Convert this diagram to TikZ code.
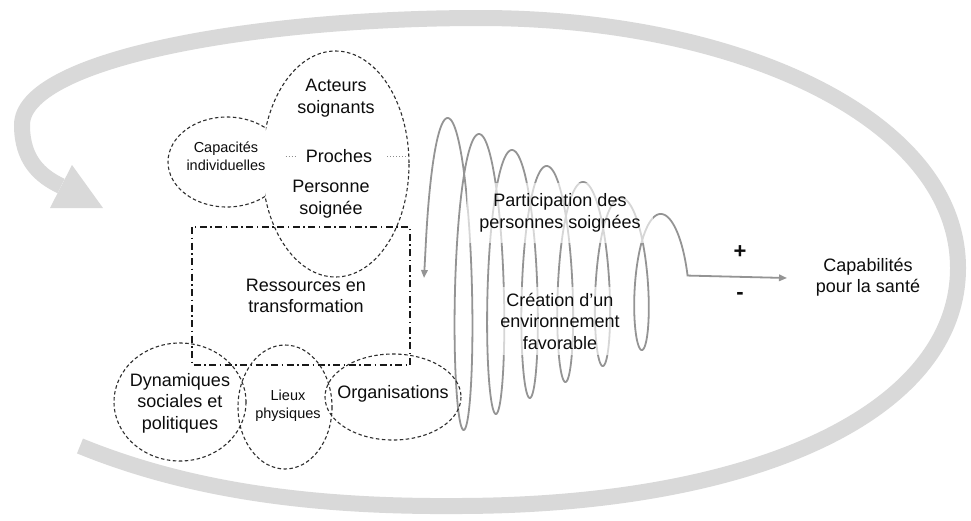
\documentclass[tikz,border=0pt]{standalone}
\usepackage{fontspec}
\setmainfont{Liberation Sans}
\usetikzlibrary{arrows.meta,intersections,calc}
\begin{document}
\begin{tikzpicture}[x=1pt,y=-1pt,
  lbl/.style={font=\fontsize{18}{21.5}\selectfont, align=center, text=black!95, inner sep=2pt},
  small/.style={font=\fontsize{14.5}{18}\selectfont, align=center, text=black!95, inner sep=1pt},
  dashell/.style={draw=black!82, line width=1.1pt, dash pattern=on 3.5pt off 2.5pt},
  dashdot/.style={draw=black!90, line width=1.6pt, dash pattern=on 7pt off 3.5pt on 1.5pt off 3.5pt},
  bigarc/.style={draw=black!15, line width=16pt},
  coil/.style={draw=black!42, line width=1.8pt, >={Triangle[width=6.5pt,length=8pt]}},
  fade/.style={fill=white, fill opacity=0.62, text opacity=1},
  sign/.style={font=\fontsize{22}{22}\selectfont\bfseries, text=black!95}
]
\fill[white] (0,0) rectangle (971,520);
\useasboundingbox (0,0) rectangle (971,520);

% big grey loop
\draw[bigarc] (80,446) .. controls (200,495) and (330,507) .. (460,506)
  .. controls (760,505) and (958,410) .. (958,268)
  .. controls (958,120) and (740,18) .. (480,18)
  .. controls (250,18) and (22,60) .. (22,125)
  .. controls (22,160) and (40,176) .. (61,186);
\fill[black!15] (50,208) -- (72,165) -- (103,208) -- cycle;

% coil
\coordinate (tip) at (787,278);
\draw[coil,<->] (424,278) -- plot[domain=-0.22:6.25, samples=700, variable=\t]
  ({448+30.5*\t+0.85*\t*\t+16*sin(360*\t)}, {278-(160-16*\t)*cos(360*\t)}) -- (tip);

% dash-dot rectangle
\draw[dashdot] (192,227) rectangle (410,365);

% union of tall ellipse and Capacites ellipse
\path[name path=T] (335.5,164) ellipse [x radius=73.5, y radius=113];
\path[name path=C] (227,162) ellipse [x radius=59, y radius=45];
\path[name intersections={of=T and C, by={i1,i2}}];
\coordinate (q1) at ($(i1)!-4!(i2)$);
\coordinate (q2) at ($(i2)!-4!(i1)$);
\begin{scope}
  \clip (q1) -- (q2) -- ([xshift=600pt]q2) -- ([xshift=600pt]q1) -- cycle;
  \draw[dashell] (335.5,164) ellipse [x radius=73.5, y radius=113];
\end{scope}
\begin{scope}
  \clip (q1) -- (q2) -- ([xshift=-600pt]q2) -- ([xshift=-600pt]q1) -- cycle;
  \draw[dashell] (227,162) ellipse [x radius=59, y radius=45];
\end{scope}

% bottom ellipses
\draw[dashell] (180,402) ellipse [x radius=66, y radius=59];
\draw[dashell] (285,407) ellipse [x radius=47, y radius=62];
\draw[dashell] (393,397) ellipse [x radius=68, y radius=43];

% texts
\node[lbl] (act) at (336,98) {Acteurs\\soignants};
\node[small] (cap) at (226,156) {Capacités\\individuelles};
\node[lbl] (pro) at (339,156) {Proches};
\node[lbl] (pers) at (331,199) {Personne\\soignée};
\node[lbl] (res) at (306,296) {Ressources en\\transformation};
\node[lbl] (dyn) at (180,403) {Dynamiques\\sociales et\\politiques};
\node[small] (lieux) at (288,406) {Lieux\\physiques};
\node[lbl] (org) at (393,394) {Organisations};
\node[lbl,fade,inner xsep=12pt,inner ysep=11pt] (part) at (560,213) {Participation des\\personnes soignées};
\node[lbl,fade,inner xsep=6pt,inner ysep=6pt] (crea) at (560,321) {Création d’un\\environnement\\favorable};
\node[lbl] (capab) at (868,277) {Capabilités\\pour la santé};
\node[sign] (plus) at (740,252) {+};
\node[sign] (minus) at (740,296) {-};

\draw[dotted, black!45, line width=1pt] ([xshift=19pt]cap.east) -- ([xshift=-7pt]pro.west);
\draw[dotted, black!45, line width=1pt] ([xshift=13pt]pro.east) -- ([xshift=35pt]pro.east);
\end{tikzpicture}
\end{document}
